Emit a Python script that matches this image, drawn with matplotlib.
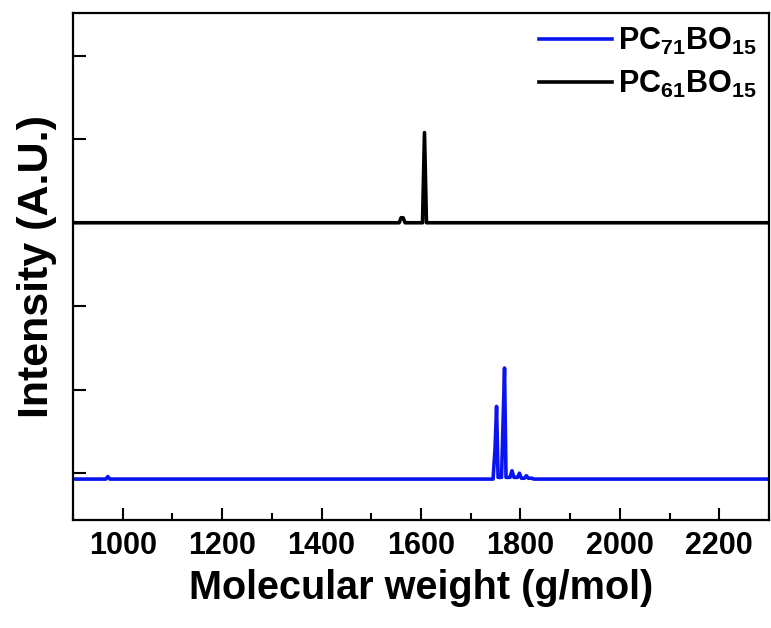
import matplotlib
matplotlib.use('Agg')
import matplotlib.pyplot as plt
from matplotlib.ticker import MultipleLocator

plt.rcParams['font.family'] = ['Liberation Sans', 'DejaVu Sans']
plt.rcParams['mathtext.fontset'] = 'custom'
plt.rcParams['mathtext.bf'] = 'Liberation Sans:bold'
plt.rcParams['mathtext.rm'] = 'Liberation Sans:bold'
plt.rcParams['mathtext.default'] = 'bf'

# PC71BO15 spectrum (offset 0)
mw_71 = [900, 966, 970, 974, 1745, 1749, 1752, 1755, 1762, 1765, 1768, 1771,
         1779, 1783, 1787, 1794, 1798, 1802, 1808, 1812, 1816, 1823, 1827, 2300]
int_71 = [-0.07, -0.07, -0.04, -0.07, -0.07, 0.30, 0.80, -0.05, -0.05, 0.60, 1.26, -0.05,
          -0.05, 0.03, -0.05, -0.05, 0.0, -0.06, -0.06, -0.03, -0.06, -0.06, -0.07, -0.07]

# PC61BO15 spectrum (offset 3)
mw_61 = [900, 1556, 1560, 1564, 1568, 1603, 1607, 1611, 2300]
int_61 = [3.0, 3.0, 3.06, 3.06, 3.0, 3.0, 4.08, 3.0, 3.0]

fig = plt.figure(figsize=(7.71, 6.28), dpi=100)
ax = fig.add_axes([0.0947, 0.172, 0.9027, 0.807])

ax.plot(mw_71, int_71, color='#0a14f0', lw=2.6, label=r'$PC_{71}BO_{15}$')
ax.plot(mw_61, int_61, color='black', lw=2.6, label=r'$PC_{61}BO_{15}$')

ax.set_xlim(900, 2300)
ax.set_ylim(-0.56, 5.51)
ax.xaxis.set_major_locator(MultipleLocator(200))
ax.xaxis.set_minor_locator(MultipleLocator(100))
ax.set_yticks(range(6))
ax.set_yticklabels([])

ax.tick_params(axis='both', which='major', direction='in', length=9, width=1.5)
ax.tick_params(axis='x', which='minor', direction='in', length=5, width=1.5)
ax.tick_params(axis='x', pad=8, labelsize=22)
for lbl in ax.get_xticklabels():
    lbl.set_fontweight('bold')
for s in ax.spines.values():
    s.set_linewidth(1.6)

ax.set_xlabel('Molecular weight (g/mol)', fontsize=28.5, fontweight='bold', labelpad=6)
ax.set_ylabel('Intensity (A.U.)', fontsize=31, fontweight='bold', labelpad=8)

ax.legend(loc='upper right', frameon=False, fontsize=22, handlelength=2.4,
          handletextpad=0.2, labelspacing=0.4, borderaxespad=0.0)

fig.savefig('out.png', dpi=100)
